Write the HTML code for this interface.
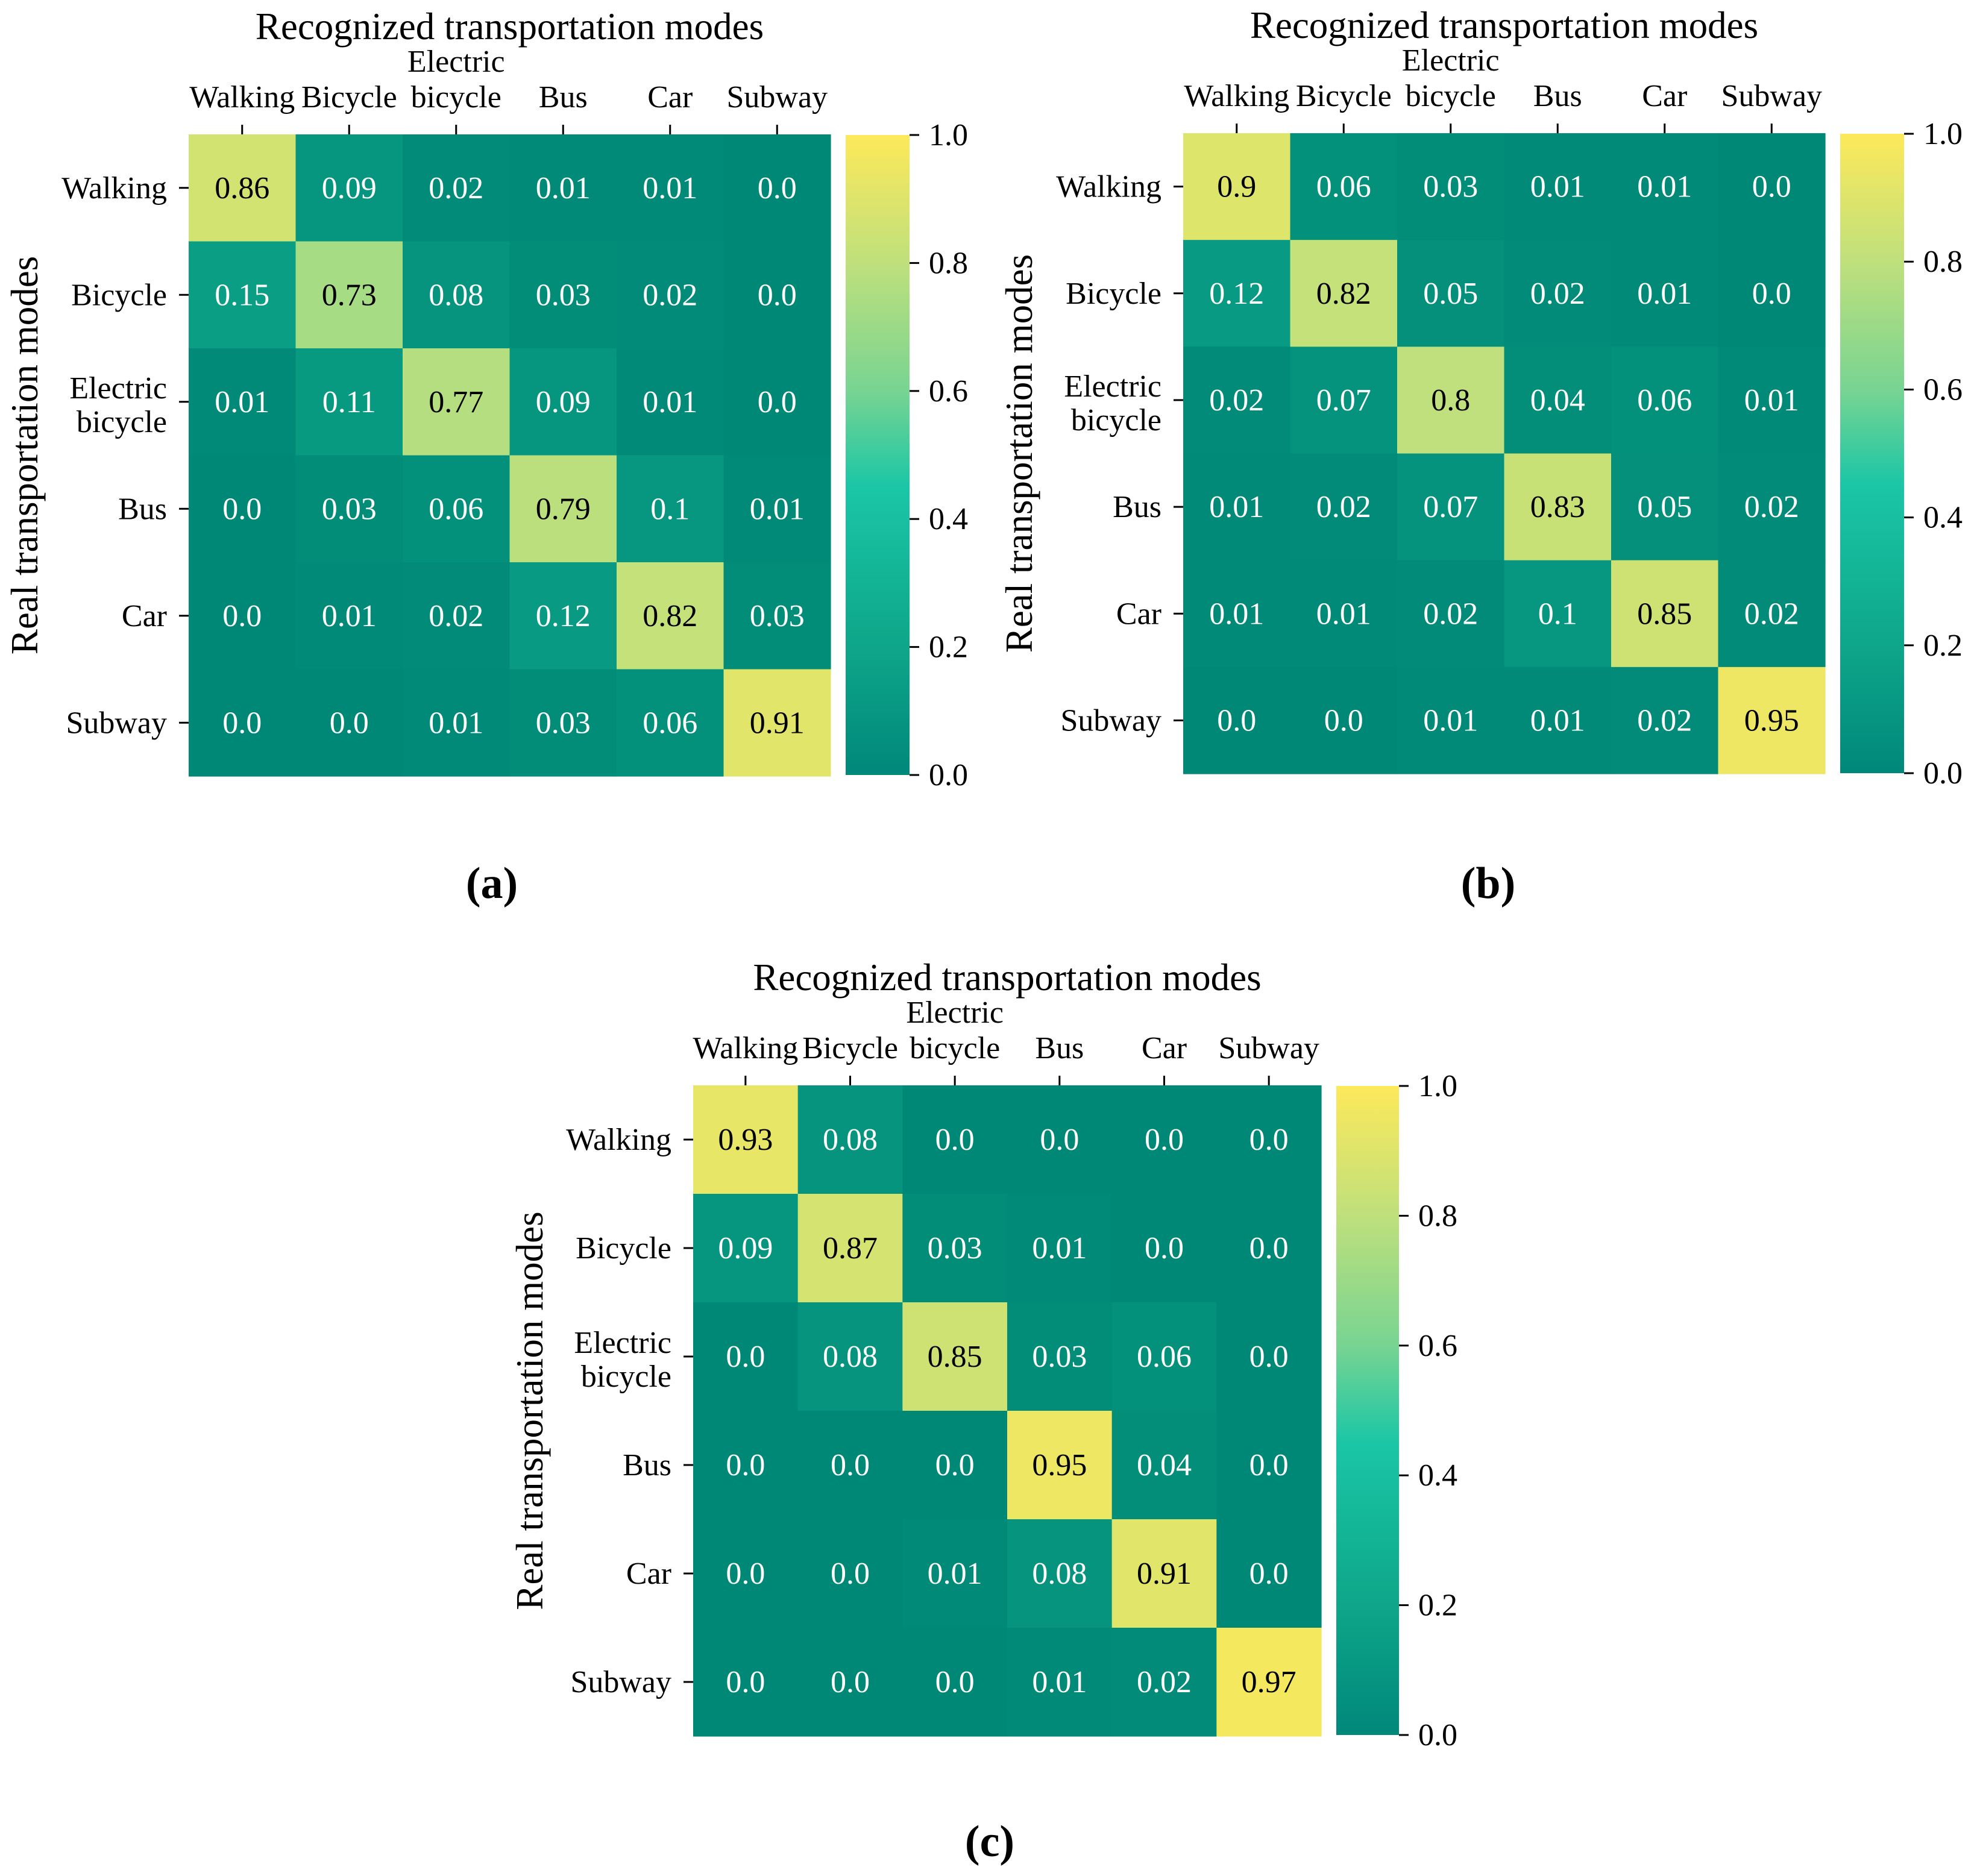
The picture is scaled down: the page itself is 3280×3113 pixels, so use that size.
<!DOCTYPE html>
<html><head><meta charset="utf-8">
<style>
html,body{margin:0;padding:0;background:#fff;}
svg{display:block;}
svg text{font-family:"Liberation Serif","DejaVu Serif","Times New Roman",serif;}
</style></head>
<body>
<svg id="fig" width="3280" height="3113" viewBox="0 0 3280 3113" xmlns="http://www.w3.org/2000/svg" font-family="Liberation Serif, DejaVu Serif, serif">
<defs>
<linearGradient id="cbg" x1="0" y1="1" x2="0" y2="0">
<stop offset="0" stop-color="#00887a"/>
<stop offset="0.2" stop-color="#0ea68a"/>
<stop offset="0.45" stop-color="#1ac6a6"/>
<stop offset="0.6" stop-color="#78d492"/>
<stop offset="0.8" stop-color="#bfe07c"/>
<stop offset="1" stop-color="#fde95a"/>
</linearGradient>
</defs>
</svg>
<script>
const categories = ["Walking","Bicycle","Electric bicycle","Bus","Car","Subway"];
const valuesA = [
 [0.86,0.09,0.02,0.01,0.01,0.0],
 [0.15,0.73,0.08,0.03,0.02,0.0],
 [0.01,0.11,0.77,0.09,0.01,0.0],
 [0.0,0.03,0.06,0.79,0.1,0.01],
 [0.0,0.01,0.02,0.12,0.82,0.03],
 [0.0,0.0,0.01,0.03,0.06,0.91]];
const valuesB = [
 [0.9,0.06,0.03,0.01,0.01,0.0],
 [0.12,0.82,0.05,0.02,0.01,0.0],
 [0.02,0.07,0.8,0.04,0.06,0.01],
 [0.01,0.02,0.07,0.83,0.05,0.02],
 [0.01,0.01,0.02,0.1,0.85,0.02],
 [0.0,0.0,0.01,0.01,0.02,0.95]];
const valuesC = [
 [0.93,0.08,0.0,0.0,0.0,0.0],
 [0.09,0.87,0.03,0.01,0.0,0.0],
 [0.0,0.08,0.85,0.03,0.06,0.0],
 [0.0,0.0,0.0,0.95,0.04,0.0],
 [0.0,0.0,0.01,0.08,0.91,0.0],
 [0.0,0.0,0.0,0.01,0.02,0.97]];
const colorbarTicks = [0.0,0.2,0.4,0.6,0.8,1.0];
const panelLabels = ["(a)","(b)","(c)"];

const NS = "http://www.w3.org/2000/svg";
const FONT = "Liberation Serif, DejaVu Serif, serif";
const svg = document.getElementById("fig");
const stops = [[0,[0,136,118]],[0.2,[14,166,138]],[0.45,[26,198,166]],[0.6,[120,212,146]],[0.8,[191,224,124]],[1,[253,233,90]]];
function cmap(v){
  v=Math.max(0,Math.min(1,v));
  for(let i=1;i<stops.length;i++){
    if(v<=stops[i][0]){
      const a=stops[i-1],b=stops[i],t=(v-a[0])/(b[0]-a[0]);
      const c=a[1].map((x,k)=>Math.round(x+(b[1][k]-x)*t));
      return `rgb(${c[0]},${c[1]},${c[2]})`;
    }
  }
  return "rgb(253,233,90)";
}
function mk(tag,attrs,parent){
  const e=document.createElementNS(NS,tag);
  for(const k in attrs) e.setAttribute(k,attrs[k]);
  (parent||svg).appendChild(e);
  return e;
}
function txt(s,attrs,parent){attrs["font-family"]=FONT;const e=mk("text",attrs,parent);e.textContent=s;return e;}

function panel(id,vals,L,T,R,B,cbL,cbR,cbT,cbB,ylabX,lab,labX,labY){
  const g=mk("g",{});
  
  
  const n=categories.length;
  const cw=(R-L)/n, ch=(B-T)/n;
  const xScale=i=>L+i*cw, yScale=j=>T+j*ch;
  for(let r=0;r<n;r++)for(let c=0;c<n;c++){
    const v=vals[r][c];
    const rect=mk("rect",{x:xScale(c),y:yScale(r),width:cw+0.6,height:ch+0.6,fill:cmap(v)},g);
    
    
    const t=txt(String(v.toFixed(2)).replace(/0$/,'').replace(/\.$/,'.0'),{x:xScale(c)+cw/2,y:yScale(r)+ch/2+17,"text-anchor":"middle","font-size":52,fill:v>0.5?"#000":"#fff"},g);
    
    
  }
  categories.forEach((cat,i)=>{
    const cx=xScale(i)+cw/2;
    mk("line",{x1:cx,y1:T-16,x2:cx,y2:T,stroke:"#000","stroke-width":3},g);
    const parts=cat.split(" ");
    if(parts.length>1){
      const t1=txt(parts[0],{x:cx,y:T-104,"text-anchor":"middle","font-size":52},g);
      
      
      const t2=txt(parts[1],{x:cx,y:T-45,"text-anchor":"middle","font-size":52},g);
      
      
    } else {
      const t=txt(cat,{x:cx,y:T-45,"text-anchor":"middle","font-size":52},g);
      
      
    }
    const cy=yScale(i)+ch/2;
    mk("line",{x1:L-16,y1:cy,x2:L,y2:cy,stroke:"#000","stroke-width":3},g);
    if(parts.length>1){
      const t1=txt(parts[0],{x:L-36,y:cy-6,"text-anchor":"end","font-size":52},g);
      
      
      const t2=txt(parts[1],{x:L-36,y:cy+50,"text-anchor":"end","font-size":52},g);
      
      
    } else {
      const t=txt(cat,{x:L-36,y:cy+17,"text-anchor":"end","font-size":52},g);
      
      
    }
  });
  const title=txt("Recognized transportation modes",{x:(L+R)/2,y:T-158,"text-anchor":"middle","font-size":63},g);
  
  
  const yl=txt("Real transportation modes",{x:ylabX,y:(T+B)/2,"text-anchor":"middle","font-size":63,transform:`rotate(-90 ${ylabX} ${(T+B)/2})`},g);
  
  
  const cb=mk("rect",{x:cbL,y:cbT,width:cbR-cbL,height:cbB-cbT,fill:"url(#cbg)"},g);
  
  
  colorbarTicks.forEach(v=>{
    const y=cbB-(cbB-cbT)*v;
    mk("line",{x1:cbR,y1:y,x2:cbR+16,y2:y,stroke:"#000","stroke-width":3},g);
    const t=txt(v.toFixed(1),{x:cbR+32,y:y+17,"font-size":52},g);
    
    
  });
  const pl=txt(lab,{x:labX,y:labY,"text-anchor":"middle","font-size":74,"font-weight":"bold"},g);
  
  
}
panel("a",valuesA,313,223,1378,1288,1403,1509,224,1286,62,panelLabels[0],816,1490);
panel("b",valuesB,1963,221,3028,1284,3053,3159,222,1283,1712,panelLabels[1],2469,1490);
panel("c",valuesC,1150,1801,2192,2881,2217,2321,1802,2879,900,panelLabels[2],1642,3080);
</script>
</body></html>
